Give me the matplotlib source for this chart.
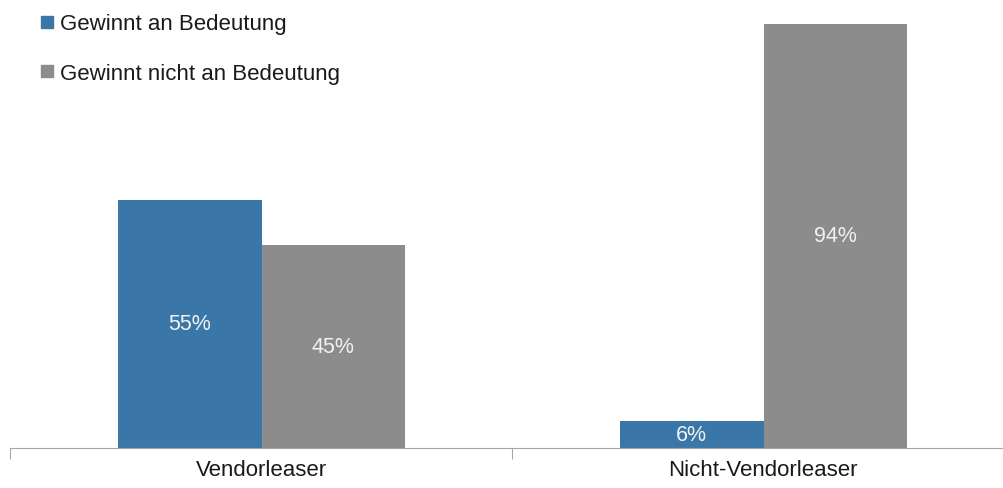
import matplotlib.pyplot as plt
from matplotlib.lines import Line2D
import numpy as np

categories = ['Vendorleaser', 'Nicht-Vendorleaser']
series_names = ['Gewinnt an Bedeutung', 'Gewinnt nicht an Bedeutung']
gewinnt = [55, 6]
gewinnt_nicht = [45, 94]
colors = ['#3a77a8', '#8c8c8c']

plt.rcParams['font.family'] = ['Liberation Sans', 'DejaVu Sans']

fig = plt.figure(figsize=(10.04, 4.89), dpi=100)
ax = fig.add_axes([10 / 1004, 40 / 489, 1.0, 449 / 489])

x = np.arange(len(categories))
w = 0.286
b1 = ax.bar(x - w / 2 + 0.001, gewinnt, w, color=colors[0])
b2 = ax.bar(x + w / 2 + 0.001, gewinnt_nicht, w, color=colors[1])

for bars, vals in ((b1, gewinnt), (b2, gewinnt_nicht)):
    for r, v in zip(bars, vals):
        ax.text(r.get_x() + r.get_width() / 2, v / 2, f'{v}%', ha='center', va='center',
                color='#f2f2f2', fontsize=15.5)

ax.set_xlim(-0.5, 1.5)
ax.set_ylim(0, 99.5)
ax.set_yticks([])
for s in ('top', 'right', 'left'):
    ax.spines[s].set_visible(False)
ax.spines['bottom'].set_color('#a6a6a6')
ax.set_xticks([-0.5, 0.5, 1.5])
ax.set_xticklabels([])
ax.tick_params(axis='x', length=8, color='#a6a6a6', direction='out')
for xi, c in zip(x, categories):
    ax.text(xi, -4.7, c, ha='center', va='center', fontsize=16, color='#1a1a1a')

handles = [Line2D([], [], marker='s', linestyle='', markersize=8.6, color=c) for c in colors]
ax.legend(handles, series_names, loc='upper left', bbox_to_anchor=(0.031, 0.968),
          frameon=False, fontsize=16, handlelength=0.55, handletextpad=0.3,
          labelspacing=1.3, borderaxespad=0, borderpad=0)
for t in ax.get_legend().get_texts():
    t.set_color('#1a1a1a')

fig.savefig('out.png', dpi=100)
